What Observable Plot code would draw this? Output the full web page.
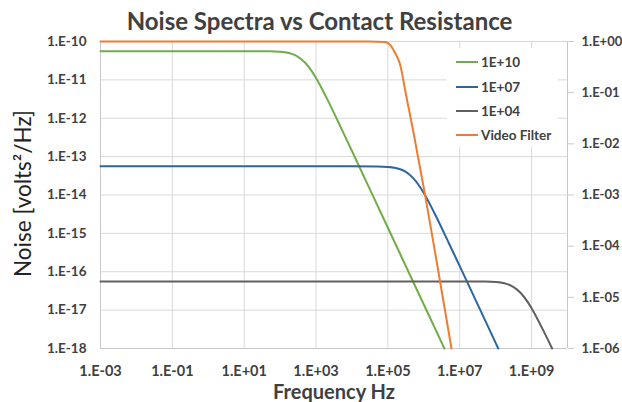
<!DOCTYPE html>
<html><head><meta charset="utf-8">
<script src="https://cdn.jsdelivr.net/npm/d3@7"></script>
<script src="https://cdn.jsdelivr.net/npm/@observablehq/plot@0.6"></script>
<style>
html,body{margin:0;padding:0;background:#fff;}
#wrap{position:relative;width:622px;height:402px;font-family:Lato,"Open Sans",sans-serif;}
#legend{position:absolute;left:447px;top:48px;width:111px;height:99px;background:#fff;}
.sw{position:absolute;left:9px;width:22px;height:2px;}
.lb{position:absolute;left:34px;font-weight:bold;font-size:13.5px;line-height:16px;color:#404040;white-space:nowrap;}
</style></head><body><div id="wrap"></div>
<script>
// ---- data ----
const seriesNames = ["1E+10", "1E+07", "1E+04", "Video Filter"];
const seriesColors = ["#70AD47", "#2B66A3", "#606060", "#ED7D31"];

const freq1e10  = [1e-3, 1, 10, 50, 100, 200, 300, 500, 800, 1e3, 2e3, 5e3, 1e4, 1e5, 1e6, 3.74e6];
const noise1e10 = [5.6e-11, 5.6e-11, 5.6e-11, 5.54e-11, 5.38e-11, 4.83e-11, 4.12e-11, 2.8e-11, 1.57e-11, 1.12e-11, 3.29e-12, 5.54e-13, 1.4e-13, 1.4e-15, 1.4e-17, 1e-18];

const freq1e07  = [1e-3, 1e3, 1e4, 5e4, 1e5, 2e5, 3e5, 5e5, 8e5, 1e6, 2e6, 5e6, 1e7, 1e8, 1.18e8];
const noise1e07 = [5.6e-14, 5.6e-14, 5.6e-14, 5.54e-14, 5.38e-14, 4.83e-14, 4.12e-14, 2.8e-14, 1.57e-14, 1.12e-14, 3.29e-15, 5.54e-16, 1.4e-16, 1.4e-18, 1e-18];

const freq1e04  = [1e-3, 1e6, 1e7, 5e7, 1e8, 2e8, 3e8, 5e8, 8e8, 1e9, 2e9, 3.74e9];
const noise1e04 = [5.6e-17, 5.6e-17, 5.6e-17, 5.54e-17, 5.38e-17, 4.83e-17, 4.12e-17, 2.8e-17, 1.57e-17, 1.12e-17, 3.29e-18, 1e-18];

// video filter is read on the right-hand (secondary) axis
const freqVideo = [1e-3, 1e3, 3e4, 8.3e4, 1.14e5, 1.56e5, 2.15e5, 3.3e5, 5.05e5, 1.07e6, 2.02e6, 5.9e6];
const gainVideo = [1, 1, 1, 0.98, 0.87, 0.61, 0.37, 0.081, 0.018, 1.06e-3, 8.2e-5, 1e-6];

const xTicks = [1e-3, 1e-1, 1e1, 1e3, 1e5, 1e7, 1e9];
const leftTicks = [1e-18, 1e-17, 1e-16, 1e-15, 1e-14, 1e-13, 1e-12, 1e-11, 1e-10];
const rightTicks = [1e0, 1e-1, 1e-2, 1e-3, 1e-4, 1e-5, 1e-6];
const leftDomain = [1e-18, 1e-10];
const rightDomain = [1e-6, 1e0];
const xDomain = [1e-3, 1e10];

const titleText = "Noise Spectra vs Contact Resistance";
const xLabel = "Frequency Hz";
const yLabel = "Noise [volts\u00B2/Hz]";

// ---- helpers ----
const L = Math.log10;
// map a right-axis value onto the left-axis scale
const rightToLeft = g => Math.pow(10, L(leftDomain[0]) + (L(g) - L(rightDomain[0])) * (L(leftDomain[1]) - L(leftDomain[0])) / (L(rightDomain[1]) - L(rightDomain[0])));
const fmt = d => { const e = Math.round(L(d)); return "1.E" + (e < 0 ? "-" : "+") + String(Math.abs(e)).padStart(2, "0"); };

const rows = [];
[[freq1e10, noise1e10], [freq1e07, noise1e07], [freq1e04, noise1e04]].forEach(([fs, vs], k) =>
  fs.forEach((f, i) => rows.push({f, v: vs[i], s: seriesNames[k]})));
freqVideo.forEach((f, i) => rows.push({f, v: rightToLeft(gainVideo[i]), s: seriesNames[3]}));

const txt = "#404040";
const chart = Plot.plot({
  width: 622, height: 402,
  marginTop: 41, marginBottom: 54, marginLeft: 100, marginRight: 55,
  style: {fontFamily: "Lato, 'Open Sans', sans-serif", color: txt, background: "#fff", overflow: "visible"},
  x: {type: "log", domain: xDomain},
  y: {type: "log", domain: leftDomain},
  color: {domain: seriesNames, range: seriesColors},
  marks: [
    Plot.gridY(leftTicks, {stroke: "#D9D9D9", strokeOpacity: 1}),
    Plot.gridX(xTicks, {stroke: "#D9D9D9", strokeOpacity: 1}),
    Plot.ruleX([xDomain[0]], {stroke: "#C8C8C8"}),
    Plot.ruleX([xDomain[1]], {stroke: "#C8C8C8"}),
    Plot.ruleY([leftDomain[0]], {stroke: "#C8C8C8"}),
    Plot.line(rows, {x: "f", y: "v", z: "s", stroke: "s", strokeWidth: 2, curve: "monotone-x"}),
    Plot.axisY(leftTicks, {anchor: "left", tickSize: 0, tickPadding: 14, tickFormat: fmt, label: null,
      fontSize: 13.5, fontWeight: "bold", fill: txt}),
    Plot.axisY(rightTicks.map(rightToLeft), {anchor: "right", tickSize: 6, tickPadding: 9, label: null,
      tickFormat: () => "", stroke: "#C8C8C8"}),
    Plot.text(rightTicks, {frameAnchor: "right", y: d => rightToLeft(d), text: d => fmt(d), dx: 14,
      textAnchor: "start", lineAnchor: "middle", fontSize: 13, fontWeight: "bold", fill: txt}),
    Plot.axisX(xTicks, {anchor: "bottom", tickSize: 0, tickPadding: 17.5, tickFormat: fmt, label: null,
      fontSize: 14.5, fontWeight: "bold", fill: txt}),
    Plot.text([titleText], {frameAnchor: "top", textAnchor: "middle", lineAnchor: "middle", dx: -14.5, dy: -18.7,
      fontSize: 24, fontWeight: "bold", fill: txt}),
    Plot.text([xLabel], {frameAnchor: "bottom", textAnchor: "middle", lineAnchor: "middle", dy: 43.9,
      fontSize: 20, fontWeight: "bold", fill: txt}),
    Plot.text([yLabel], {frameAnchor: "left", textAnchor: "middle", lineAnchor: "middle", rotate: -90, dx: -77, dy: -1.5,
      fontSize: 22.5, fill: "#222"})
  ]
});
const wrap = document.getElementById("wrap");
wrap.appendChild(chart);

// legend (drawn over the plot with a white box, as in the reference)
const leg = document.createElement("div");
leg.id = "legend";
const rowCenters = [13.7, 38.7, 63, 87.3];
seriesNames.forEach((name, i) => {
  const sw = document.createElement("div");
  sw.className = "sw"; sw.style.top = (rowCenters[i] - 1) + "px"; sw.style.background = seriesColors[i];
  const lb = document.createElement("div");
  lb.className = "lb"; lb.style.top = (rowCenters[i] - 8) + "px"; lb.textContent = name;
  leg.appendChild(sw); leg.appendChild(lb);
});
wrap.appendChild(leg);
</script></body></html>
